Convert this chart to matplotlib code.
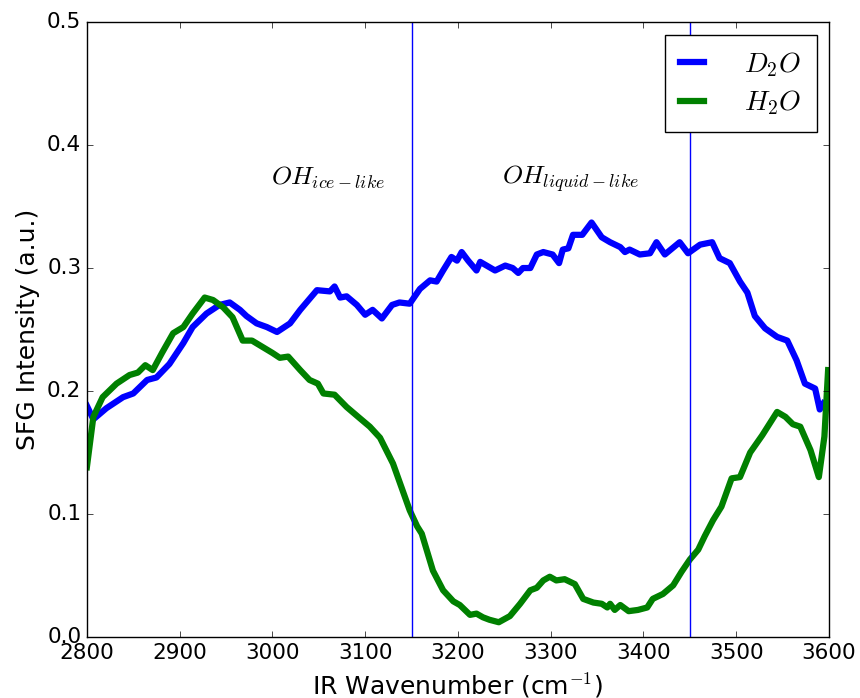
import matplotlib
matplotlib.use("Agg")
import matplotlib.pyplot as plt

plt.style.use("classic")
plt.rcParams["mathtext.fontset"] = "cm"

# D2O spectrum (wavenumber, intensity)
d2o_x = [2800, 2807, 2821, 2839, 2850, 2865, 2875, 2889, 2904, 2914, 2929, 2943,
         2954, 2965, 2972, 2983, 2994, 3005, 3019, 3030, 3048, 3062, 3067, 3073,
         3080, 3091, 3100, 3108, 3118, 3129, 3137, 3148, 3159, 3170, 3177, 3184,
         3193, 3199, 3204, 3211, 3220, 3224, 3240, 3251, 3259, 3265, 3270, 3278,
         3285, 3292, 3302, 3309, 3313, 3319, 3324, 3334, 3344, 3355, 3364, 3375,
         3380, 3385, 3396, 3407, 3414, 3423, 3439, 3448, 3461, 3474, 3482, 3493,
         3504, 3512, 3520, 3531, 3544, 3555, 3565, 3574, 3585, 3590, 3594]
d2o_y = [0.188, 0.177, 0.186, 0.195, 0.198, 0.209, 0.211, 0.222, 0.239, 0.252, 0.263, 0.270,
         0.272, 0.266, 0.261, 0.255, 0.252, 0.248, 0.255, 0.266, 0.282, 0.281, 0.285, 0.276,
         0.277, 0.270, 0.262, 0.266, 0.259, 0.270, 0.272, 0.271, 0.283, 0.290, 0.289, 0.298,
         0.309, 0.306, 0.313, 0.306, 0.298, 0.305, 0.298, 0.302, 0.300, 0.296, 0.300, 0.300,
         0.311, 0.313, 0.311, 0.304, 0.315, 0.316, 0.327, 0.327, 0.337, 0.325, 0.321, 0.317,
         0.313, 0.315, 0.311, 0.312, 0.321, 0.311, 0.321, 0.312, 0.319, 0.321, 0.308, 0.304,
         0.289, 0.280, 0.261, 0.251, 0.244, 0.241, 0.225, 0.206, 0.202, 0.185, 0.190]

# H2O spectrum (wavenumber, intensity)
h2o_x = [2800, 2807, 2817, 2832, 2846, 2855, 2863, 2871, 2881, 2893, 2904, 2914,
         2927, 2936, 2947, 2957, 2968, 2978, 2989, 3000, 3008, 3017, 3030, 3040,
         3049, 3055, 3067, 3080, 3094, 3105, 3116, 3130, 3148, 3156, 3161, 3173,
         3184, 3195, 3202, 3213, 3220, 3227, 3234, 3244, 3256, 3267, 3278, 3285,
         3292, 3299, 3306, 3315, 3326, 3335, 3346, 3355, 3361, 3364, 3369, 3375,
         3384, 3394, 3404, 3410, 3421, 3432, 3441, 3450, 3459, 3466, 3475, 3484,
         3495, 3504, 3515, 3528, 3544, 3553, 3561, 3569, 3580, 3589, 3595, 3599]
h2o_y = [0.138, 0.179, 0.195, 0.206, 0.213, 0.215, 0.221, 0.217, 0.231, 0.247, 0.252, 0.263,
         0.276, 0.274, 0.268, 0.260, 0.241, 0.241, 0.236, 0.231, 0.227, 0.228, 0.217, 0.209,
         0.206, 0.198, 0.197, 0.187, 0.178, 0.171, 0.162, 0.141, 0.103, 0.090, 0.084, 0.054,
         0.038, 0.029, 0.026, 0.018, 0.019, 0.016, 0.014, 0.012, 0.017, 0.027, 0.038, 0.040,
         0.046, 0.049, 0.046, 0.047, 0.043, 0.031, 0.028, 0.027, 0.024, 0.027, 0.022, 0.026,
         0.021, 0.022, 0.024, 0.031, 0.035, 0.042, 0.053, 0.063, 0.071, 0.082, 0.095, 0.106,
         0.129, 0.130, 0.150, 0.164, 0.183, 0.179, 0.173, 0.171, 0.152, 0.130, 0.163, 0.217]

region_bounds = [3150, 3450]
region_labels = [r"$OH_{ice-like}$", r"$OH_{liquid-like}$"]
region_label_x = [3060, 3321]
region_label_y = 0.373

fig = plt.figure(figsize=(8.6, 6.98), dpi=100, facecolor="white")
ax = fig.add_axes([0.101, 0.0874, 0.863, 0.881])

ax.plot(d2o_x, d2o_y, color="b", lw=4.5, label=r"$D_2O$")
ax.plot(h2o_x, h2o_y, color="g", lw=4.5, label=r"$H_2O$")

for xb in region_bounds:
    ax.axvline(xb, color="b", lw=1)

for lx, txt in zip(region_label_x, region_labels):
    ax.text(lx, region_label_y, txt, fontsize=18.5, ha="center", va="center")

ax.set_xlim(2800, 3600)
ax.set_ylim(0, 0.5)
ax.set_xticks(range(2800, 3601, 100))
ax.set_yticks([0.0, 0.1, 0.2, 0.3, 0.4, 0.5])
ax.tick_params(labelsize=15.5)
ax.set_xlabel(r"IR Wavenumber (cm$^{-1}$)", fontsize=18, labelpad=6)
ax.set_ylabel("SFG Intensity (a.u.)", fontsize=18)

leg = ax.legend(loc="upper right", fontsize=20, handlelength=0.85,
                borderpad=0.55, labelspacing=0.35, handletextpad=1.45,
                borderaxespad=0.45, numpoints=1)
leg.get_frame().set_linewidth(1)

fig.savefig("out.png", dpi=100, facecolor="white")
